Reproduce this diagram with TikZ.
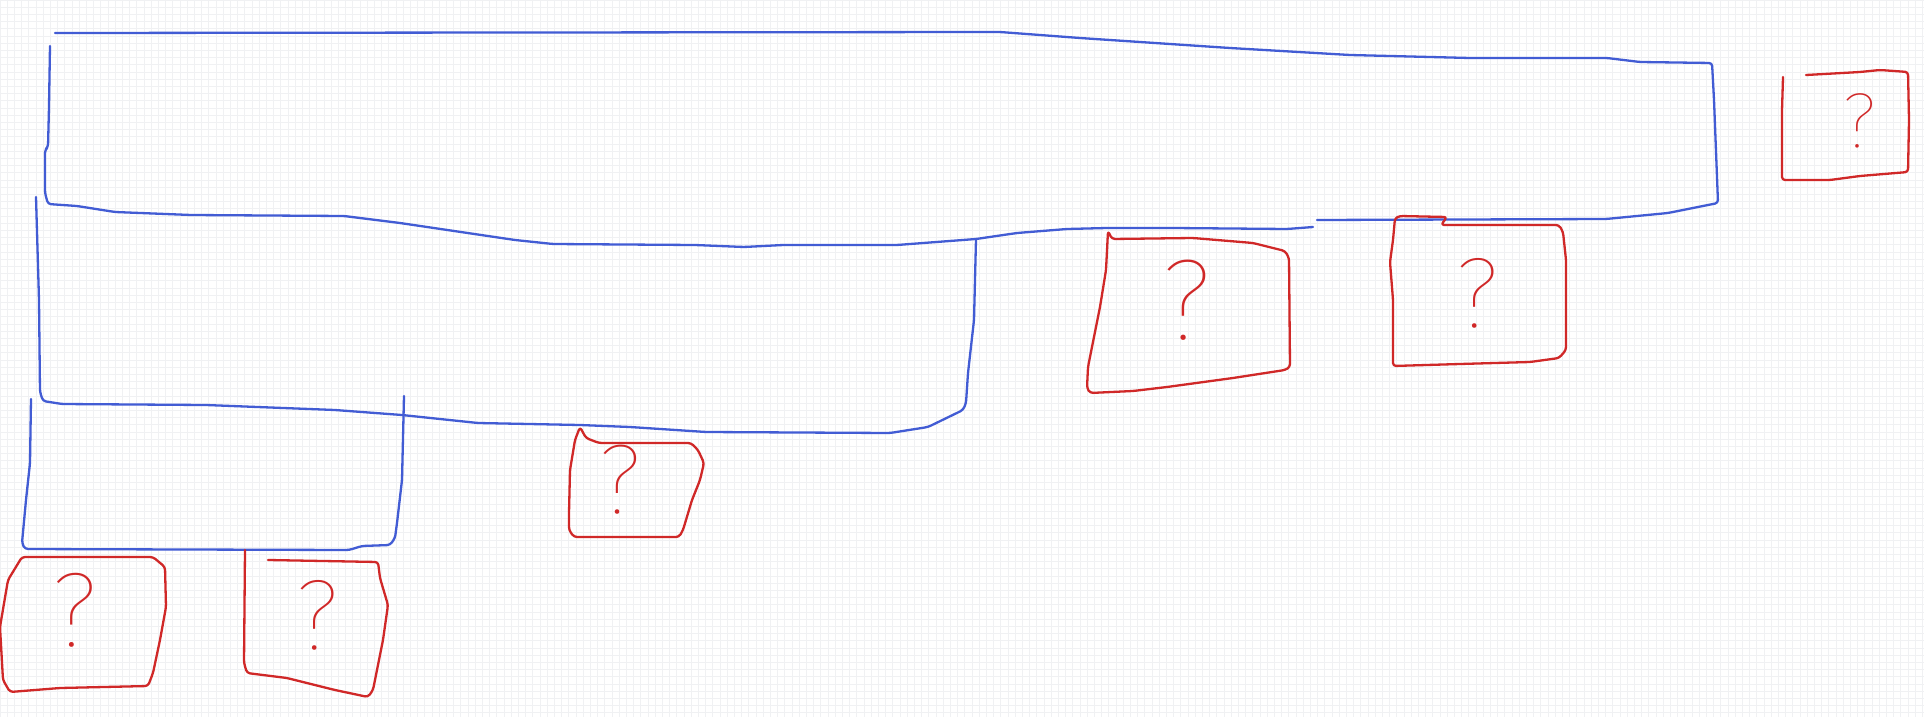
\documentclass[tikz,border=0pt]{standalone}
\usepackage{fontspec}
\usepackage{tikz}
\usetikzlibrary{calc}
\newfontfamily\qfont{Fira Sans Thin}
\definecolor{penblue}{RGB}{66,92,212}
\definecolor{penred}{RGB}{208,40,40}
\definecolor{gridgray}{RGB}{240,241,243}

\begin{document}
\begin{tikzpicture}[x=1pt, y=-1pt,
		pen/.style={line width=2.3pt, line join=round, line cap=round, rounded corners=3pt},
		bluepen/.style={pen, penblue},
		redpen/.style={pen, penred},
		qmark/.style={text=penred, inner sep=0pt, anchor=north, font=\qfont\fontsize{#1}{#1}\selectfont}]
			\useasboundingbox (0,0) rectangle (1924,717);
			\fill[white] (0,0) rectangle (1924,717);
			\draw[gridgray, line width=0.7pt, xstep=7.2pt, ystep=7.2pt] (0,717) grid (1924,0);
			\draw[bluepen] (55,33) -- (1000,32) -- (1080,38) -- (1230,48) -- (1350,55) -- (1470,58) -- (1607,58) -- (1640,62) -- (1712,63) -- (1714,100) -- (1718,203) -- (1668,213) -- (1606,219) -- (1317,220);
			\draw[bluepen] (50,46) -- (49,107) -- (48,147) -- (45,150) -- (45,193) -- (48,204) -- (77,206) -- (115,212) -- (191,215) -- (344,216) -- (400,223) -- (515,240) -- (553,244) -- (695,245) -- (744,247) -- (783,245) -- (897,245) -- (976,239) -- (1017,233) -- (1067,229) -- (1107,228) -- (1173,228) -- (1287,229) -- (1313,227);
			\draw[bluepen] (36,197) -- (39,300) -- (40,392) -- (43,401) -- (62,404) -- (206,405) -- (335,410) -- (402,415) -- (478,423) -- (580,425) -- (630,427) -- (706,432) -- (890,433) -- (928,427) -- (963,410) -- (966,403) -- (968,373) -- (974,320) -- (976,239);
			\draw[bluepen] (31,399) -- (30,463) -- (26,500) -- (22,543) -- (25,549) -- (349,550) -- (362,546) -- (390,545) -- (395,538) -- (397,523) -- (402,480) -- (404,396);
			\draw[redpen] (1393,366) -- (1393,300) -- (1390,262) -- (1393,240) -- (1395,218) -- (1400,216) -- (1447,217) -- (1441,225) -- (1559,225) -- (1563,232) -- (1566,260) -- (1566,350) -- (1559,358) -- (1530,362) -- (1460,364) -- cycle;
			\draw[redpen] (1783,77) -- (1782,110) -- (1782,180) -- (1830,180) -- (1860,176) -- (1908,172) -- (1909,120) -- (1908,72) -- (1880,70) -- (1860,72) -- (1806,75);
			\draw[redpen] (22,557) -- (153,557) -- (165,567) -- (166,607) -- (160,640) -- (153,673) -- (148,686) -- (60,688) -- (10,692) -- (3,680) -- (0,627) -- (8,580) -- cycle;
			\draw[redpen] (245,550) -- (244,663) -- (247,673) -- (287,678) -- (335,690) -- (368,697) -- (373,690) -- (383,640) -- (388,605) -- (380,578) -- (378,562) -- (268,560);
			\draw[redpen] (580,427) -- (586,438) -- (599,443) -- (691,443) -- (698,450) -- (704,463) -- (700,480) -- (692,500) -- (683,530) -- (679,537) -- (574,537) -- (569,530) -- (569,513) -- (570,470) -- (575,440) -- cycle;
			\draw[redpen] (1108,231) -- (1112,239) -- (1193,238) -- (1253,243) -- (1285,251) -- (1289,258) -- (1290,367) -- (1285,370) -- (1233,378) -- (1167,387) -- (1133,391) -- (1090,393) -- (1087,388) -- (1088,367) -- (1100,307) -- (1106,270) -- cycle;
			\node[qmark=100] (qa) at (1478,258) {?};
			\node[qmark=78] (qb) at (1860,93) {?};
			\node[qmark=106] (qc) at (75,573) {?};
			\node[qmark=100] (qd) at (318,580) {?};
			\node[qmark=99] (qe) at (620,445) {?};
			\node[qmark=115] (qf) at (1187,260) {?};
		\end{tikzpicture}
\end{document}
